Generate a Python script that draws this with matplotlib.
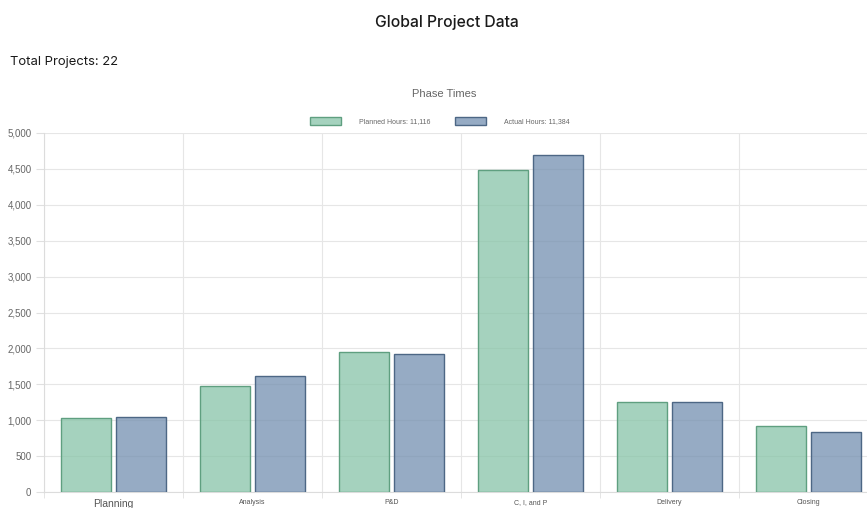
import matplotlib
matplotlib.use("Agg")
import matplotlib.pyplot as plt
from matplotlib.ticker import FuncFormatter, FixedLocator

categories = ["Planning", "Analysis", "P&D", "C, I, and P", "Delivery", "Closing"]
planned = [1030, 1470, 1955, 4480, 1255, 926]
actual = [1050, 1615, 1925, 4700, 1260, 834]
total_projects = 22
yticks = [0, 500, 1000, 1500, 2000, 2500, 3000, 3500, 4000, 4500, 5000]

W, H = 867, 508
fig = plt.figure(figsize=(W / 100, H / 100), dpi=100)
fig.patch.set_facecolor("white")

left, right, top, bottom = 44, 878, 133, 492
ax = fig.add_axes([left / W, 1 - bottom / H, (right - left) / W, (bottom - top) / H])

x = list(range(len(categories)))
bw = 0.36
off = 0.2
green_face = (0.53, 0.77, 0.66, 0.75)
green_edge = "#5f9f80"
blue_face = (0.45, 0.56, 0.69, 0.75)
blue_edge = "#4d6785"

b1 = ax.bar([i - off for i in x], planned, width=bw, color=green_face, edgecolor=green_edge,
            linewidth=1.0, zorder=3, label=f"Planned Hours: {sum(planned):,}")
b2 = ax.bar([i + off for i in x], actual, width=bw, color=blue_face, edgecolor=blue_edge,
            linewidth=1.0, zorder=3, label=f"Actual Hours: {sum(actual):,}")

ax.set_xlim(-0.5, len(categories) - 0.5)
ax.set_ylim(0, 5000)
ax.set_yticks(yticks)
ax.yaxis.set_major_formatter(FuncFormatter(lambda v, p: f"{int(v):,}"))
ax.grid(axis="y", color="#e6e6e6", linewidth=0.8, zorder=0)
ax.xaxis.set_minor_locator(FixedLocator([i - 0.5 for i in range(len(categories) + 1)]))
ax.grid(axis="x", which="minor", color="#e6e6e6", linewidth=0.8, zorder=0)
ax.set_xticks(x)
ax.set_xticklabels(categories)
for i, lab in enumerate(ax.get_xticklabels()):
    lab.set_fontsize(7.5 if i == 0 else 5)
    lab.set_color("#555555")
    lab.set_fontfamily("Liberation Sans")
ax.tick_params(axis="x", which="major", length=0, pad=5)
ax.tick_params(axis="x", which="minor", length=4, color="#e0e0e0")
ax.tick_params(axis="y", length=6, color="#e0e0e0", labelsize=7, labelcolor="#666666", pad=3)
for lab in ax.get_yticklabels():
    lab.set_fontfamily("Liberation Sans")

for s in ["top", "right"]:
    ax.spines[s].set_visible(False)
ax.spines["left"].set_color("#dcdcdc")
ax.spines["bottom"].set_color("#dcdcdc")
ax.set_axisbelow(True)

fig.text(447 / W, 1 - 22 / H, "Global Project Data", ha="center", va="center",
         fontsize=11.3, family="Inter", fontweight="medium", color="#1a1a1a")
fig.text(10 / W, 1 - 62 / H, f"Total Projects: {total_projects}", ha="left", va="center",
         fontsize=9.4, family="Inter", color="#1a1a1a")
fig.text(444 / W, 1 - 94 / H, "Phase Times", ha="center", va="center",
         fontsize=8, family="Liberation Sans", color="#666666")

leg = fig.legend(handles=[b1, b2], loc="center", bbox_to_anchor=(440 / W, 1 - 121 / H),
                 ncol=2, frameon=False, handlelength=4.5, handleheight=1.4,
                 handletextpad=2.6, columnspacing=3.5, prop={"family": "Liberation Sans", "size": 5})
for t in leg.get_texts():
    t.set_color("#666666")

fig.savefig("out.png", dpi=100, facecolor="white")
